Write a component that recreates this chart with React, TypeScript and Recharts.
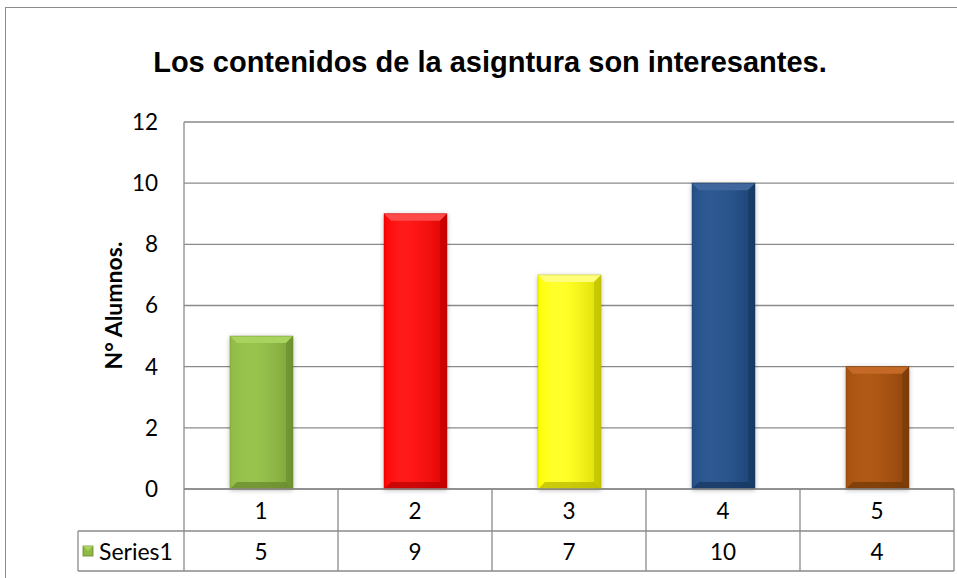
import React from 'react';
import { BarChart, Bar, XAxis, YAxis, CartesianGrid, Cell } from 'recharts';

const categories = ['1', '2', '3', '4', '5'];
const values = [5, 9, 7, 10, 4];
const seriesName = 'Series1';
const yTicks = [0, 2, 4, 6, 8, 10, 12];
const titleText = 'Los contenidos de la asigntura son interesantes.';
const yLabel = 'N° Alumnos.';

const baseColors = ['#8FBB45', '#FF0000', '#FFFF00', '#24508A', '#A5500F'];
const lightColors = ['#A8D35E', '#FF4A4A', '#FFFF7A', '#40689F', '#C46A26'];
const darkColors = ['#66862C', '#B80000', '#B5B500', '#16355C', '#713806'];

const data = categories.map((c, i) => ({ name: c, value: values[i] }));

const FONT = 'Lato, "Open Sans", sans-serif';
const GRID = '#8A8A8A';
const FS = 22.5;

const BevelBar = (props: any) => {
  const { x, y, width: w, height: h, index } = props;
  if (!h || h <= 0) return null;
  const b = Math.min(7, w / 4, h / 4);
  const base = baseColors[index];
  const light = lightColors[index];
  const dark = darkColors[index];
  return (
    <g>
      <rect x={x} y={y} width={w} height={h} fill={base} filter="url(#barShadow)" />
      <rect x={x} y={y} width={w} height={h} fill={`url(#bodyGrad${index})`} />
      <polygon points={`${x},${y} ${x + w},${y} ${x + w - b},${y + b} ${x + b},${y + b}`} fill={light} />
      <polygon points={`${x + w},${y} ${x + w},${y + h} ${x + w - b},${y + h - b} ${x + w - b},${y + b}`} fill={dark} opacity={0.55} />
      <polygon points={`${x},${y + h} ${x + w},${y + h} ${x + w - b},${y + h - b} ${x + b},${y + h - b}`} fill={dark} opacity={0.7} />
      <rect x={x} y={y} width={w} height={h} fill="none" stroke={dark} strokeOpacity={0.5} strokeWidth={0.8} />
    </g>
  );
};

const TableTick = (props: any) => {
  const { x, y, payload, index } = props;
  const half = payload && payload.offset ? payload.offset : 77;
  const r1 = y;
  const r2 = y + 42;
  const r3 = y + 82;
  const left = x - half;
  const right = x + half;
  const val = values[index];
  return (
    <g>
      <line x1={left} x2={right} y1={r1} y2={r1} stroke={GRID} strokeWidth={1.3} />
      <line x1={left} x2={right} y1={r2} y2={r2} stroke={GRID} strokeWidth={1.3} />
      <line x1={left} x2={right} y1={r3} y2={r3} stroke={GRID} strokeWidth={1.3} />
      <line x1={right} x2={right} y1={r1} y2={r3} stroke={GRID} strokeWidth={1.3} />
      {index === 0 && (
        <g>
          <line x1={left} x2={left} y1={r1} y2={r3} stroke={GRID} strokeWidth={1.3} />
          <line x1={left - 106} x2={left} y1={r2} y2={r2} stroke={GRID} strokeWidth={1.3} />
          <line x1={left - 106} x2={left} y1={r3} y2={r3} stroke={GRID} strokeWidth={1.3} />
          <line x1={left - 106} x2={left - 106} y1={r2} y2={r3} stroke={GRID} strokeWidth={1.3} />
          <rect x={left - 101} y={r2 + 15} width={10} height={10} fill={baseColors[0]} stroke={darkColors[0]} strokeWidth={0.8} />
          <polygon points={`${left - 101},${r2 + 15} ${left - 91},${r2 + 15} ${left - 96},${r2 + 20}`} fill={lightColors[0]} />
          <text x={left - 85} y={r2 + 20} dominantBaseline="central" fontFamily={FONT} fontSize={FS + 0.5} fill="#000">
            {seriesName}
          </text>
        </g>
      )}
      <text x={x} y={r1 + 21} textAnchor="middle" dominantBaseline="central" fontFamily={FONT} fontSize={FS} fill="#000">
        {payload.value}
      </text>
      <text x={x} y={r2 + 20} textAnchor="middle" dominantBaseline="central" fontFamily={FONT} fontSize={FS} fill="#000">
        {val}
      </text>
    </g>
  );
};

const YAxisLabel = (props: any) => {
  const vb = props.viewBox || { x: 0, y: 122, width: 184, height: 367 };
  const cx = vb.x + 113;
  const cy = vb.y + vb.height / 2;
  return (
    <text
      x={cx}
      y={cy}
      transform={`rotate(-90, ${cx}, ${cy})`}
      textAnchor="middle"
      dominantBaseline="central"
      fontFamily={FONT}
      fontWeight="bold"
      fontSize={23}
      fill="#000"
    >
      {yLabel}
    </text>
  );
};

export default function App() {
  return (
    <div style={{ position: 'absolute', left: 0, top: 0, width: 957, height: 578, background: '#fff', overflow: 'hidden' }}>
      <div
        style={{
          position: 'absolute',
          left: 5,
          top: 7,
          width: 1000,
          height: 1000,
          borderTop: '1px solid #8C8C8C',
          borderLeft: '1px solid #8C8C8C',
        }}
      />
      <div
        style={{
          position: 'absolute',
          left: 0,
          width: 980,
          top: 42,
          textAlign: 'center',
          fontFamily: '"Liberation Sans", Arial, sans-serif',
          fontWeight: 'bold',
          fontSize: 29,
          lineHeight: '40px',
          color: '#000',
        }}
      >
        {titleText}
      </div>
      <div style={{ position: 'absolute', left: 0, top: 0 }}>
        <BarChart width={957} height={578} data={data} margin={{ top: 122, right: 3, left: 0, bottom: 0 }}>
          <defs>
            <filter id="barShadow" x="-20%" y="-10%" width="140%" height="120%">
              <feDropShadow dx="0" dy="1" stdDeviation="2.5" floodColor="#000" floodOpacity="0.3" />
            </filter>
            {baseColors.map((c, i) => (
              <linearGradient key={i} id={`bodyGrad${i}`} x1="0" y1="0" x2="1" y2="0">
                <stop offset="0%" stopColor={c} />
                <stop offset="45%" stopColor={lightColors[i]} stopOpacity={0.3} />
                <stop offset="100%" stopColor={darkColors[i]} stopOpacity={0.5} />
              </linearGradient>
            ))}
          </defs>
          <CartesianGrid vertical={false} stroke={GRID} strokeWidth={1.3} />
          <XAxis
            dataKey="name"
            height={89}
            axisLine={false}
            tickLine={false}
            tickSize={0}
            tickMargin={0}
            interval={0}
            tick={<TableTick />}
          />
          <YAxis
            width={184}
            domain={[0, 12]}
            ticks={yTicks}
            interval={0}
            tickLine={false}
            tickSize={0}
            tickMargin={26}
            axisLine={{ stroke: GRID, strokeWidth: 1.3 }}
            tick={{ fill: '#000', fontSize: FS, fontFamily: FONT }}
            label={<YAxisLabel />}
          />
          <Bar dataKey="value" barSize={63} isAnimationActive={false} shape={<BevelBar />}>
            {data.map((d, i) => (
              <Cell key={d.name} fill={baseColors[i]} />
            ))}
          </Bar>
        </BarChart>
      </div>
    </div>
  );
}
